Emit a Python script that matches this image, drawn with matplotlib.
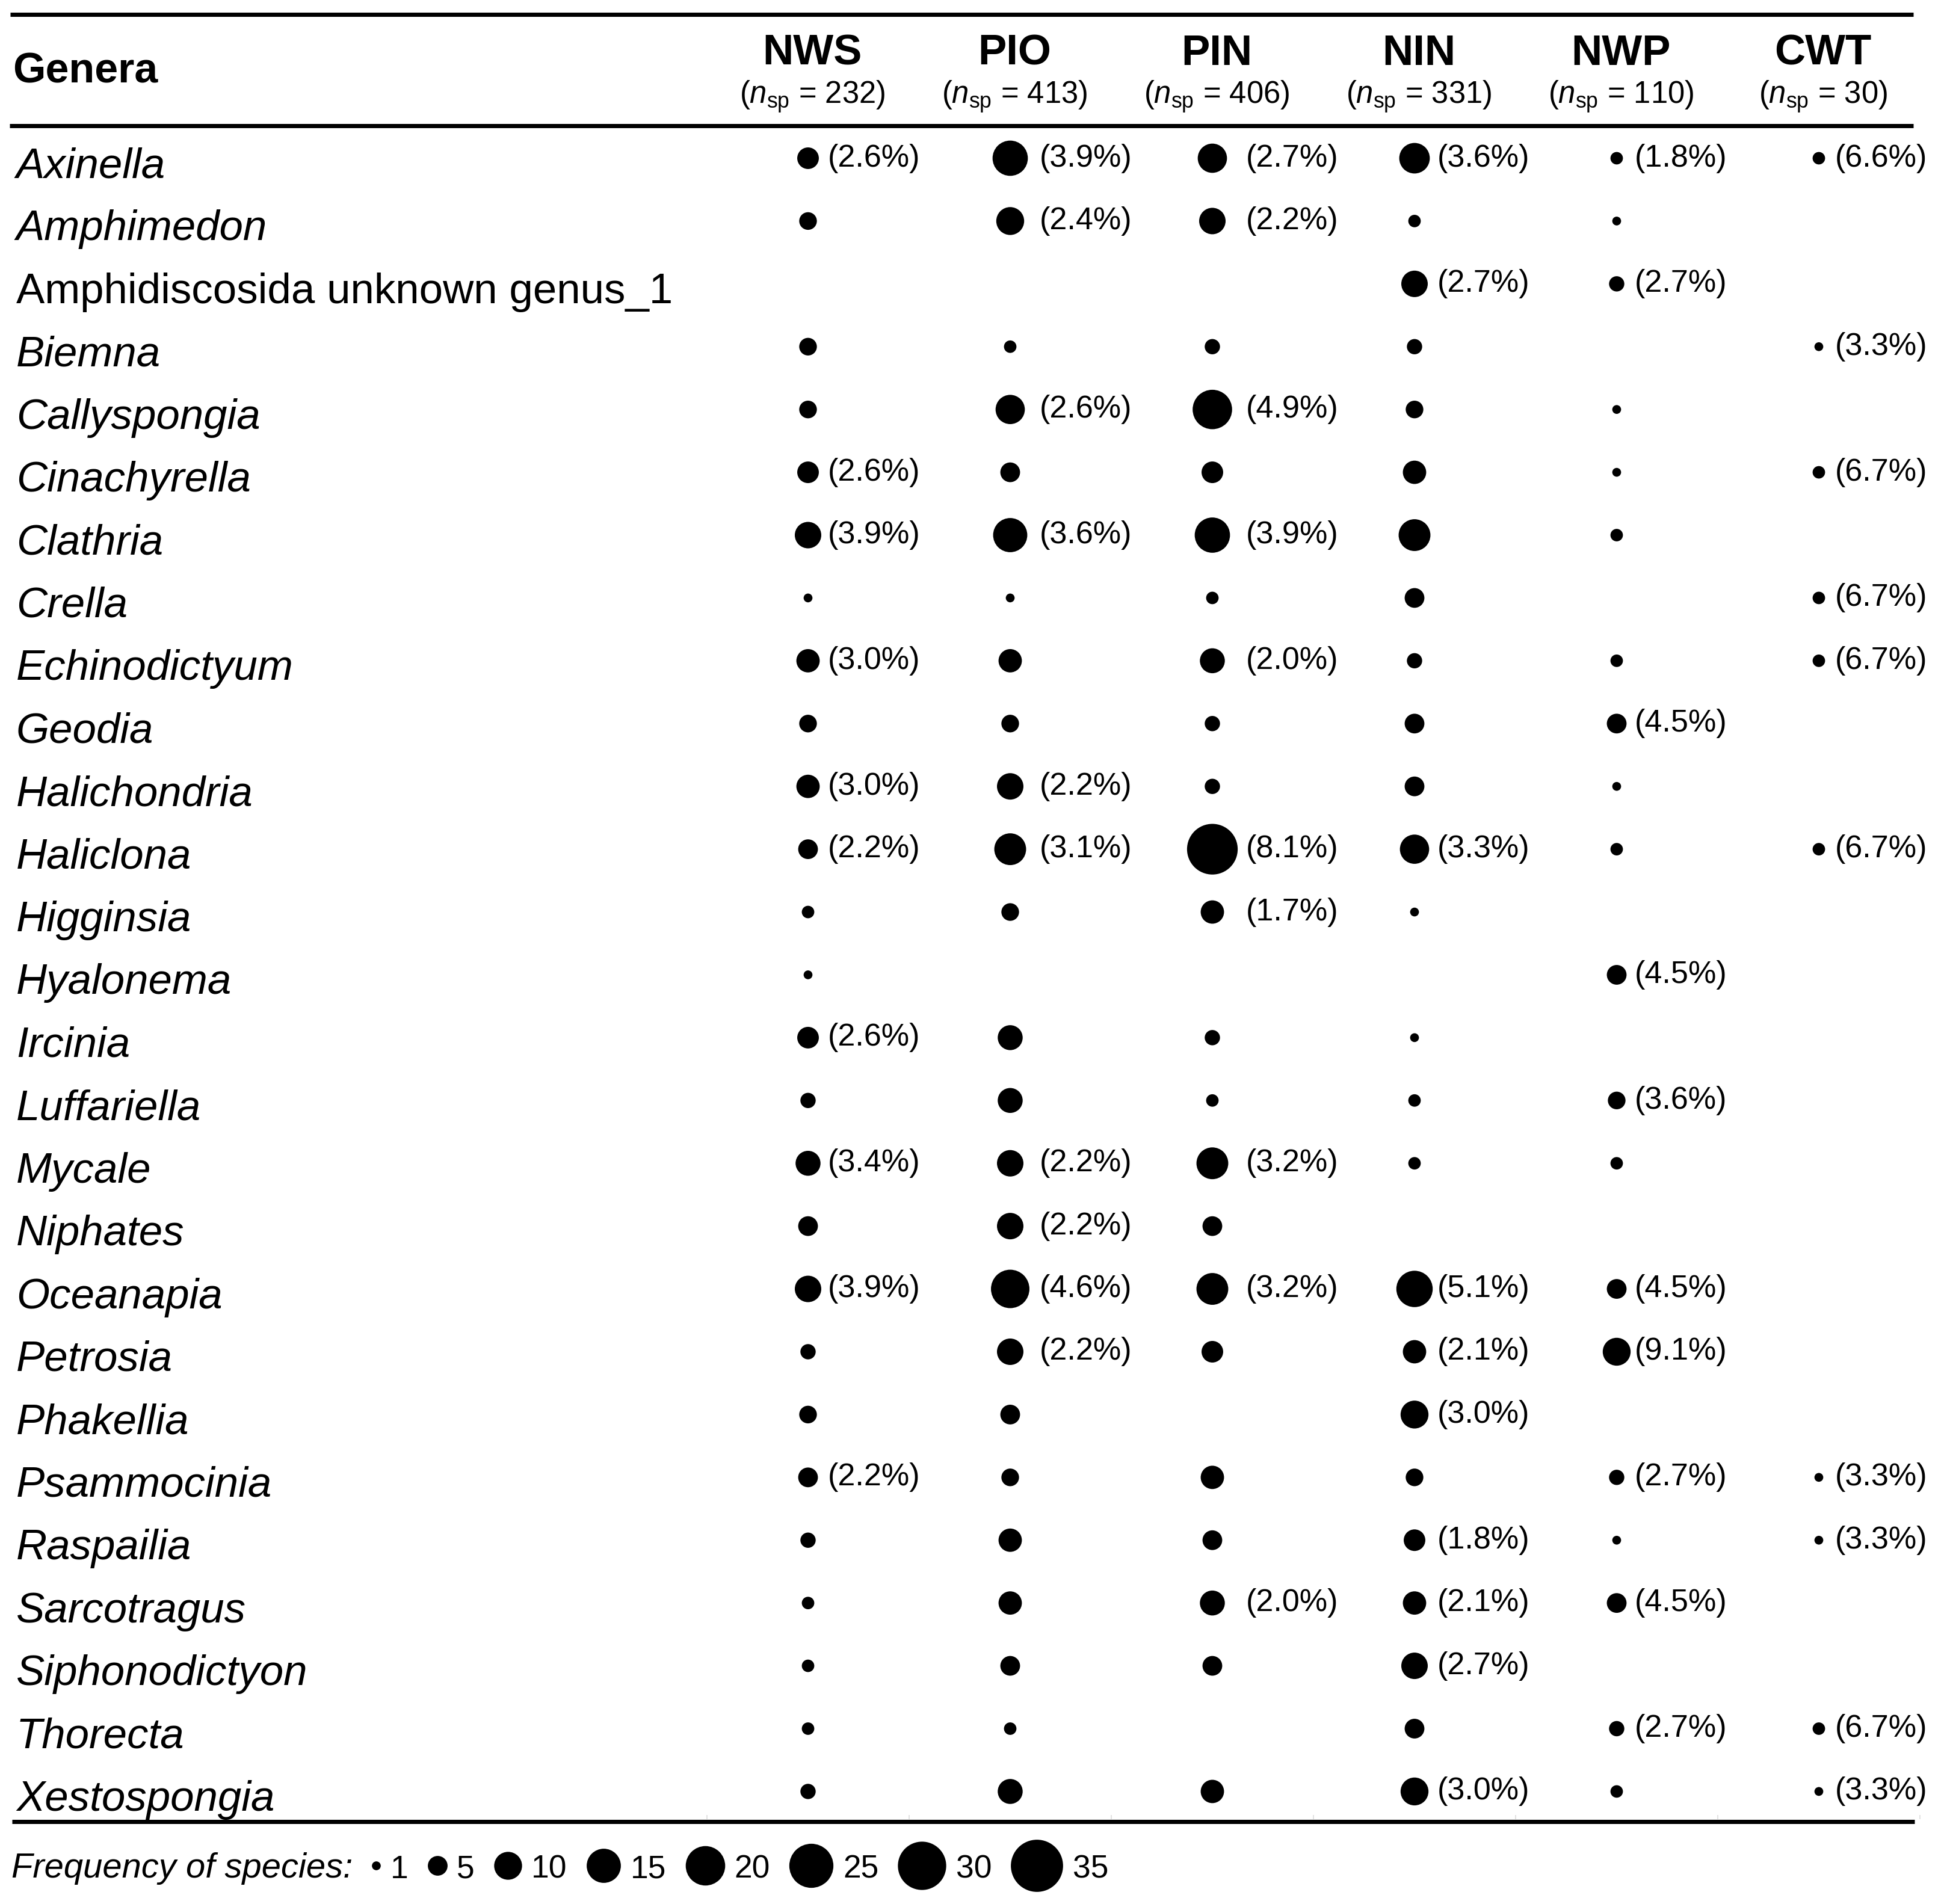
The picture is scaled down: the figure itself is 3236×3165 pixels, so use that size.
import matplotlib
matplotlib.use('Agg')
import matplotlib.pyplot as plt
from matplotlib import transforms
from matplotlib.lines import Line2D
import numpy as np

plt.rcParams['font.family'] = ['Liberation Sans', 'DejaVu Sans']
plt.rcParams['mathtext.fontset'] = 'custom'
plt.rcParams['mathtext.rm'] = 'Liberation Sans'
plt.rcParams['mathtext.it'] = 'Liberation Sans:italic'

# ---- data ----
genera = ['Axinella', 'Amphimedon', 'Amphidiscosida unknown genus_1', 'Biemna',
          'Callyspongia', 'Cinachyrella', 'Clathria', 'Crella', 'Echinodictyum',
          'Geodia', 'Halichondria', 'Haliclona', 'Higginsia', 'Hyalonema',
          'Ircinia', 'Luffariella', 'Mycale', 'Niphates', 'Oceanapia', 'Petrosia',
          'Phakellia', 'Psammocinia', 'Raspailia', 'Sarcotragus', 'Siphonodictyon',
          'Thorecta', 'Xestospongia']
italic = [g != 'Amphidiscosida unknown genus_1' for g in genera]

regions = ['NWS', 'PIO', 'PIN', 'NIN', 'NWP', 'CWT']
n_sp = [232, 413, 406, 331, 110, 30]

# number of species per genus (0 = absent)
nws = [6, 4, 0, 4, 4, 6, 9, 1, 7, 4, 7, 5, 2, 1, 6, 3, 8, 5, 9, 3, 4, 5, 3, 2, 2, 2, 3]
pio = [16, 10, 0, 2, 11, 5, 15, 1, 7, 4, 9, 13, 4, 0, 8, 8, 9, 9, 19, 9, 5, 4, 7, 7, 5, 2, 8]
pin = [11, 9, 0, 3, 20, 6, 16, 2, 8, 3, 3, 33, 7, 0, 3, 2, 13, 5, 13, 6, 0, 7, 5, 8, 5, 0, 7]
nin = [12, 2, 9, 3, 4, 7, 13, 5, 3, 5, 5, 11, 1, 0, 1, 2, 2, 0, 17, 7, 10, 4, 6, 7, 9, 5, 10]
nwp = [2, 1, 3, 0, 1, 1, 2, 0, 2, 5, 1, 2, 0, 5, 0, 4, 2, 0, 5, 10, 0, 3, 1, 5, 0, 3, 2]
cwt = [2, 0, 0, 1, 0, 2, 0, 2, 2, 0, 0, 2, 0, 0, 0, 0, 0, 0, 0, 0, 0, 1, 1, 0, 0, 2, 1]

nws_lab = ['(2.6%)', '', '', '', '', '(2.6%)', '(3.9%)', '', '(3.0%)', '', '(3.0%)', '(2.2%)',
           '', '', '(2.6%)', '', '(3.4%)', '', '(3.9%)', '', '', '(2.2%)', '', '', '', '', '']
pio_lab = ['(3.9%)', '(2.4%)', '', '', '(2.6%)', '', '(3.6%)', '', '', '', '(2.2%)', '(3.1%)',
           '', '', '', '', '(2.2%)', '(2.2%)', '(4.6%)', '(2.2%)', '', '', '', '', '', '', '']
pin_lab = ['(2.7%)', '(2.2%)', '', '', '(4.9%)', '', '(3.9%)', '', '(2.0%)', '', '', '(8.1%)',
           '(1.7%)', '', '', '', '(3.2%)', '', '(3.2%)', '', '', '', '', '(2.0%)', '', '', '']
nin_lab = ['(3.6%)', '', '(2.7%)', '', '', '', '', '', '', '', '', '(3.3%)',
           '', '', '', '', '', '', '(5.1%)', '(2.1%)', '(3.0%)', '', '(1.8%)', '(2.1%)', '(2.7%)', '', '(3.0%)']
nwp_lab = ['(1.8%)', '', '(2.7%)', '', '', '', '', '', '', '(4.5%)', '', '',
           '', '(4.5%)', '', '(3.6%)', '', '', '(4.5%)', '(9.1%)', '', '(2.7%)', '', '(4.5%)', '', '(2.7%)', '']
cwt_lab = ['(6.6%)', '', '', '(3.3%)', '', '(6.7%)', '', '(6.7%)', '(6.7%)', '', '', '(6.7%)',
           '', '', '', '', '', '', '', '', '', '(3.3%)', '(3.3%)', '', '', '(6.7%)', '(3.3%)']

counts = [nws, pio, pin, nin, nwp, cwt]
labels = [nws_lab, pio_lab, pin_lab, nin_lab, nwp_lab, cwt_lab]
legend_values = [1, 5, 10, 15, 20, 25, 30, 35]

# ---- layout (pixels) ----
W, H, DPI = 3237, 3165, 300
PT = 72 / DPI                 # points per pixel
SIZE_K = 12.38                # marker area (pt^2) per species
col0, dcol = 1343, 336
row0, drow = 263, 104.42
lab_dx = [33, 49, 56, 38, 30, 27]

fig = plt.figure(figsize=(W / DPI, H / DPI), dpi=DPI)
fig.patch.set_facecolor('white')

left = col0 - 0.5 * dcol
right = col0 + 5.5 * dcol
top = row0 - 0.5 * drow
bottom = row0 + 26.5 * drow
ax = fig.add_axes([left / W, 1 - bottom / H, (right - left) / W, (bottom - top) / H])
ax.set_xlim(-0.5, 5.5)
ax.set_ylim(26.5, -0.5)
ax.axis('off')

rows = np.arange(len(genera))
for j, (vals, labs) in enumerate(zip(counts, labels)):
    vals = np.array(vals)
    m = vals > 0
    ax.scatter(np.full(m.sum(), j), rows[m], s=SIZE_K * vals[m], c='black',
               linewidths=0, clip_on=False, zorder=3)
    tr = transforms.offset_copy(ax.transData, fig=fig, x=lab_dx[j] * PT, units='points')
    for i, lab in enumerate(labs):
        if lab:
            ax.text(j, i, lab, transform=tr, ha='left', va='center', fontsize=12.5)

# genus names
name_tr = transforms.offset_copy(
    transforms.blended_transform_factory(fig.transFigure, ax.transData),
    fig=fig, y=-32 * PT, units='points')
for i, (g, it) in enumerate(zip(genera, italic)):
    ax.text(27 / W, i, g, transform=name_tr, ha='left', va='baseline',
            fontsize=17, style='italic' if it else 'normal')

# column headers
hdr_tr = transforms.blended_transform_factory(ax.transData, fig.transFigure)
for j, (r, n) in enumerate(zip(regions, n_sp)):
    x = j + 7 / dcol
    ax.text(x, 1 - 108 / H, r, transform=hdr_tr, ha='center', va='baseline',
            fontsize=17, fontweight='bold')
    ax.text(x, 1 - 172 / H, r'($\mathit{n}_{\mathrm{sp}}$ = %d)' % n, transform=hdr_tr,
            ha='center', va='baseline', fontsize=12.2)
fig.text(21 / W, 1 - 138 / H, 'Genera', ha='left', va='baseline',
         fontsize=16.8, fontweight='bold')

# rules
for y, x0, x1 in [(23.5, 17, 3180), (208.5, 16, 3180), (3027.5, 20, 3182)]:
    fig.add_artist(Line2D([x0 / W, x1 / W], [1 - y / H, 1 - y / H],
                          transform=fig.transFigure, color='black', lw=7 * PT,
                          solid_capstyle='butt'))
# faint ticks at column boundaries
ax.vlines(np.arange(-0.5, 6), (3017 - row0) / drow, (3024 - row0) / drow,
          colors='#e2e2e2', lw=2 * PT, clip_on=False)

# size legend
lax = fig.add_axes([0, 0, 1, 1])
lax.set_xlim(0, W)
lax.set_ylim(H, 0)
lax.axis('off')
lax.text(19, 3121, 'Frequency of species:', ha='left', va='baseline',
         fontsize=13.9, style='italic')
renderer = fig.canvas.get_renderer()
cur = 618
for v in legend_values:
    r = np.sqrt(SIZE_K * v) / PT / 2
    lax.scatter([cur + r], [3101], s=SIZE_K * v, c='black', linewidths=0, clip_on=False)
    t = lax.text(cur + 2 * r + 16, 3122, str(v), ha='left', va='baseline', fontsize=12.8)
    bb = t.get_window_extent(renderer)
    cur = bb.x1 + 32

fig.savefig('out.png', dpi=DPI, facecolor='white')
